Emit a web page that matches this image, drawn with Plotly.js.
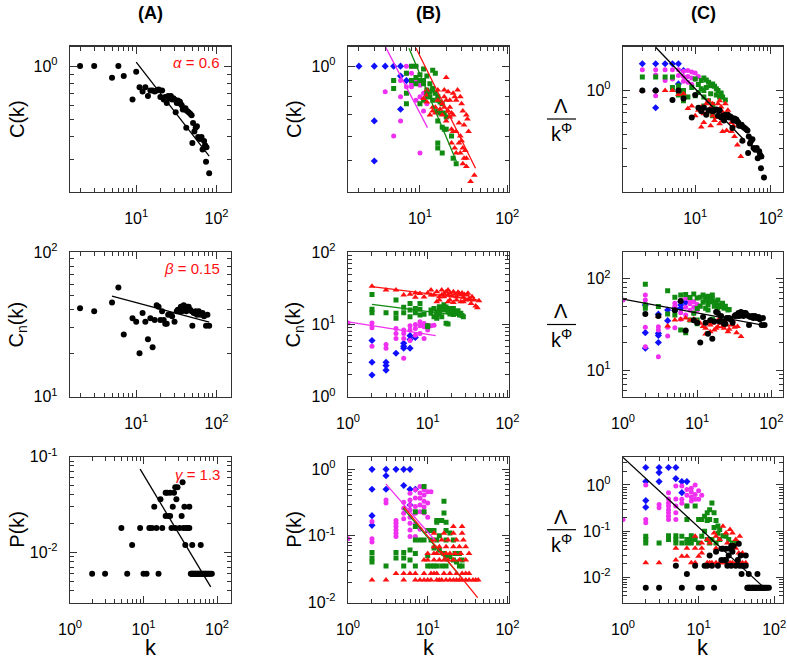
<!DOCTYPE html>
<html>
<head>
<meta charset="utf-8">
<script src="https://cdn.plot.ly/plotly-3.0.1.min.js"></script>
<style>
  html, body { margin: 0; padding: 0; background: #fff; }
  #chart { width: 787px; height: 661px; }
</style>
</head>
<body>
<div id="chart"></div>
<script>
// ── data: [k, value] pairs ───────────────────────────────────────────────────

// (A) aggregated network, black
const ckAll = [[2,1.0],[3,1.0],[5,0.86],[6,1.0],[7,0.88],[9,0.65],[10,0.93],[11,0.76],[12,0.72],[13,0.76],[14,0.68],[15,0.73],[16,0.73],[17,0.72],[18,0.73],[19,0.74],[20,0.67],[21,0.73],[22,0.65],[23,0.67],[24,0.62],[25,0.68],[26,0.66],[27,0.68],[28,0.65],[29,0.66],[30,0.65],[31,0.55],[32,0.62],[33,0.64],[34,0.62],[35,0.63],[36,0.61],[37,0.6],[38,0.57],[40,0.57],[41,0.58],[42,0.45],[43,0.56],[45,0.55],[47,0.54],[49,0.53],[50,0.37],[51,0.48],[53,0.43],[55,0.45],[57,0.46],[59,0.40],[62,0.39],[65,0.40],[67,0.34],[70,0.38],[72,0.36],[75,0.35],[74,0.29],[81,0.25]];
const cnkAll = [[2,41],[3,39],[5,45],[6,57],[7,27],[9,35],[10,33],[11,20],[12,38],[13,33],[14,25],[15,35],[16,22],[17,34],[18,43],[19,42],[20,34],[21,39],[22,34],[23,32],[24,32],[25,37],[27,37],[28,36],[30,33],[32,39],[33,40],[34,39],[36,42],[37,39],[39,43],[40,42],[42,39],[43,42],[45,42],[47,40],[49,39],[50,31],[52,38],[55,39],[57,37],[60,39],[63,37],[67,38],[70,36],[74,31],[77,37],[81,31]];
const pkAll = [[2,0.006],[3,0.006],[5,0.018],[6,0.006],[7,0.012],[9,0.018],[10,0.006],[11,0.006],[12,0.018],[13,0.018],[14,0.030],[15,0.018],[16,0.006],[17,0.036],[18,0.018],[20,0.042],[20,0.024],[21,0.042],[22,0.024],[23,0.042],[23,0.024],[24,0.018],[25,0.030],[26,0.042],[27,0.018],[27,0.048],[28,0.036],[29,0.048],[31,0.018],[33,0.024],[34,0.054],[35,0.018],[36,0.030],[37,0.012],[38,0.018],[40,0.018],[42,0.030],[42,0.018],[46,0.012],[60,0.012],[44,0.006],[45,0.006],[46,0.006],[47,0.006],[48,0.006],[50,0.006],[51,0.006],[52,0.006],[54,0.006],[55,0.006],[57,0.006],[58,0.006],[60,0.006],[62,0.006],[64,0.006],[66,0.006],[68,0.006],[70,0.006],[72,0.006],[75,0.006],[78,0.006],[81,0.006],[85,0.006]];

// (B) individual layers
const ckBlue = [[2,1],[3,1],[4,1],[5,1],[6,1],[7,0.9],[6,0.93],[6,0.73],[3,0.67],[3,0.5]];
const ckMagenta = [[4,0.83],[5,0.9],[5,0.6],[6,0.67],[6,0.9],[6,0.8],[7,0.95],[7,1.0],[8,1.0],[8,0.95],[9,1.0],[9,0.9],[7,0.86],[8,0.86],[10,0.87],[11,0.82],[10,0.8],[9,0.78],[12,0.76],[11,0.72],[10,0.53],[8,0.88]];
const ckGreen = [[5,0.85],[5,0.9],[7,0.82],[7,0.76],[8,1.0],[9,1.0],[7,0.95],[9,0.88],[10,0.9],[11,0.98],[14,0.97],[15,0.95],[12,0.93],[13,0.88],[14,0.85],[14,0.84],[15,0.82],[13,0.8],[12,0.8],[16,0.8],[16,0.78],[17,0.77],[18,0.76],[19,0.71],[19,0.63],[20,0.63],[18,0.64],[16,0.67],[16,0.57],[16,0.55],[18,0.53],[23,0.6],[24,0.51],[26,0.49],[9,0.92],[10,0.94],[11,0.88],[12,0.84],[12,0.82],[13,0.83],[11,0.78],[10,0.76],[14,0.78],[16,0.72],[17,0.71],[20,0.69],[11,0.9],[8,0.9]];
const ckRed = [[12,0.81],[12,0.77],[14,0.74],[14,0.72],[12,0.84],[15,0.71],[16,0.78],[17,0.73],[18,0.70],[19,0.84],[20,0.92],[21,0.83],[22,0.74],[23,0.71],[24,0.70],[25,0.80],[26,0.78],[27,0.84],[29,0.80],[30,0.76],[31,0.72],[34,0.70],[35,0.68],[26,0.62],[29,0.60],[30,0.58],[31,0.55],[33,0.54],[32,0.51],[31,0.49],[34,0.48],[42,0.45],[38,0.43],[23,0.63],[24,0.62],[23,0.57],[25,0.55],[28,0.57],[26,0.53],[20,0.67],[22,0.69],[21,0.72],[19,0.74],[16,0.84],[24,0.82],[22,0.78],[20,0.78],[19,0.80],[15,0.74],[13,0.70],[29,0.53],[34,0.51],[36,0.62],[11,0.79],[28,0.66],[32,0.65],[18,0.76]];

const cnkBlue = [[2,6],[2,3],[2,2],[3,3],[3,2.7],[3,2.33],[4,4],[5,5.5],[5,5.0],[5,4.7],[6,7],[6,6.2],[6,4.7],[7,6.6]];
const cnkMagenta = [[1,10.5],[2,5.0],[2,10.5],[2,9.0],[3,5.3],[3,4.7],[5,3.4],[4,8.8],[4,7.5],[4,6.4],[5,8.4],[5,7.5],[5,6.4],[6,9.6],[6,8.4],[7,10],[7,8.8],[7,7.1],[8,10.9],[8,9.6],[8,7.5],[9,10.3],[9,9.3],[10,9.8],[10,8.4],[11,9.6],[12,9.8],[9,6.4],[6,6.0]];
const cnkGreen = [[2,26],[2,16.2],[2,14.6],[3,14.6],[4,21.9],[4,14.3],[4,12.2],[5,17.3],[5,14.6],[6,19.6],[6,15.9],[6,12.8],[7,16.6],[7,14.6],[8,19.6],[8,16.2],[8,13.5],[9,13.9],[10,9.3],[10,9.6],[11,15.9],[11,14.3],[12,16.6],[12,12.8],[13,15],[13,12.2],[14,17.6],[14,14.3],[15,12.8],[16,18.7],[16,15.9],[17,10.4],[18,10.2],[18,16.6],[18,15],[19,16.6],[20,15.9],[21,16.6],[22,15],[23,14.3],[25,13.5],[26,14.3],[27,13.3],[28,12.8],[14,15.9],[13,13.5],[15,17],[17,17.5],[19,14],[21,13.8],[24,15.5]];
const cnkRed = [[2,34],[3,30],[4,30],[5,25.6],[6,26.3],[7,27.3],[7,23.8],[8,26.9],[10,27.3],[11,25.6],[11,30],[12,25.6],[13,28.4],[14,24.3],[15,30],[15,25.6],[16,26.9],[17,28.4],[18,25.6],[18,30],[19,27.3],[20,24.8],[21,28.4],[22,26.3],[23,24.3],[25,26.9],[26,25.6],[27,27.3],[28,23.8],[30,21.9],[31,25.6],[33,23],[35,19.6],[36,24.3],[38,21.9],[40,18],[44,21.4],[42,17],[19,21.9],[21,20.1],[23,21.9],[26,20.7],[28,20.7],[18,20.7],[16,24.3],[14,21.9],[13,20.7],[24,28],[29,26],[32,27],[34,22],[9,24]];

const pkBlue = [[2,1],[3,1],[4,1],[5,1],[6,1],[3,0.8],[2,0.5],[3,0.5],[5,0.57],[6,0.5],[7,0.5],[6,0.29],[2,0.2],[2,0.143]];
const pkMagenta = [[1,0.09],[2,0.163],[2,0.09],[2,0.08],[3,0.345],[3,0.31],[4,0.17],[4,0.154],[4,0.137],[4,0.122],[4,0.109],[4,0.097],[5,0.32],[5,0.26],[5,0.217],[5,0.18],[6,0.435],[6,0.345],[6,0.29],[6,0.244],[6,0.19],[6,0.154],[6,0.122],[7,0.49],[7,0.37],[7,0.274],[7,0.217],[8,0.55],[8,0.44],[8,0.365],[8,0.29],[8,0.23],[9,0.49],[9,0.41],[9,0.33],[9,0.27],[10,0.46],[10,0.31],[11,0.46],[6,0.097],[7,0.097],[8,0.125],[10,0.19],[9,0.22],[7,0.15]];
const pkGreen = [[2,0.056],[2,0.046],[2,0.040],[3,0.035],[4,0.056],[4,0.046],[5,0.056],[5,0.046],[5,0.035],[6,0.061],[6,0.043],[7,0.23],[7,0.137],[7,0.054],[7,0.035],[9,0.55],[9,0.23],[10,0.12],[10,0.05],[10,0.035],[11,0.12],[12,0.12],[13,0.17],[13,0.16],[14,0.17],[15,0.17],[16,0.33],[16,0.22],[17,0.16],[17,0.12],[17,0.086],[13,0.086],[14,0.061],[16,0.054],[17,0.05],[19,0.048],[21,0.043],[23,0.04],[25,0.035],[27,0.035],[11,0.035],[12,0.035],[13,0.035],[15,0.035],[17,0.035],[19,0.11],[21,0.086],[22,0.054],[23,0.054],[25,0.054],[27,0.043],[7,0.086],[8,0.086],[9,0.086],[11,0.086],[12,0.065],[14,0.1]];
const pkRed = [[2,0.0215],[3,0.0215],[5,0.0215],[7,0.0215],[8,0.0215],[9,0.0215],[10,0.0215],[11,0.0215],[13,0.0215],[14,0.0215],[15,0.0215],[17,0.0215],[19,0.0215],[21,0.0215],[23,0.0215],[25,0.0215],[27,0.0215],[30,0.0215],[33,0.0215],[37,0.0215],[40,0.0215],[43,0.0215],[4,0.027],[5,0.027],[6,0.027],[7,0.027],[9,0.027],[11,0.027],[12,0.027],[13,0.027],[16,0.027],[19,0.027],[23,0.027],[27,0.027],[30,0.027],[33,0.027],[9,0.043],[10,0.043],[12,0.043],[14,0.043],[16,0.043],[18,0.043],[21,0.043],[25,0.043],[30,0.043],[10,0.054],[12,0.054],[13,0.054],[15,0.054],[17,0.054],[19,0.054],[22,0.054],[26,0.054],[33,0.054],[12,0.068],[14,0.068],[17,0.068],[21,0.068],[25,0.068],[30,0.068],[12,0.086],[15,0.086],[18,0.086],[23,0.086],[28,0.086],[12,0.109],[16,0.109],[21,0.109],[27,0.109],[21,0.137],[27,0.137]];

// (C) rescaled, colour layers + aggregated (black reuses ckAll / cnkAll / pkAll)
const lamCBlue = [[2,1.53],[3,1.53],[4,1.53],[5,1.53],[6,1.53],[3,1.0],[3,0.76],[6,1.11],[7,1.375]];
const lamCMagenta = [[2,1.39],[3,1.39],[4,1.39],[5,1.39],[6,1.39],[4,1.17],[5,1.2],[3,0.92],[7,1.36],[8,1.375],[9,1.34],[10,1.32],[7,1.25],[8,1.25],[9,1.22],[10,1.2],[8,1.14],[7,1.16],[9,1.1],[6,1.27],[3,1.28],[11,1.25]];
const lamCGreen = [[2,1.24],[3,1.24],[4,1.24],[5,1.24],[6,1.08],[5,1.05],[6,1.0],[7,1.0],[6,0.93],[7,0.93],[10,1.2],[12,1.17],[13,1.22],[14,1.18],[15,1.14],[16,1.08],[17,1.11],[18,1.07],[19,1.03],[20,1.0],[22,0.96],[23,0.9],[25,0.86],[12,1.03],[13,1.0],[7,0.85],[8,0.9],[10,0.92],[13,0.9],[15,0.85],[17,0.8],[17,0.67],[11,1.1],[14,1.05],[16,0.95],[19,0.93],[21,0.9],[9,1.05],[11,0.97],[13,0.78],[15,0.72]];
const lamCRed = [[2,1.0],[4,1.0],[5,1.0],[6,0.94],[8,0.75],[9,0.78],[10,0.67],[11,0.73],[12,0.77],[13,0.69],[14,0.81],[15,0.85],[16,0.76],[17,0.71],[17,0.67],[18,0.62],[19,0.73],[20,0.81],[21,0.85],[22,0.77],[23,0.71],[25,0.81],[26,0.69],[27,0.73],[29,0.65],[30,0.6],[32,0.57],[26,0.53],[23,0.52],[16,0.57],[13,0.6],[12,0.56],[23,0.62],[42,0.45],[40,0.35],[36,0.42],[33,0.48],[30,0.52],[19,0.65],[21,0.59],[17,0.81],[14,0.69],[3,1.0],[7,0.95]];

const lamNBlue = [[2,51.5],[2,25.6],[2,17.3],[3,40.8],[3,25.2],[3,23.9],[3,20],[4,45.4],[4,34.7],[5,47.3],[5,44.7],[6,56],[6,51.5],[6,47.3],[7,54.8]];
const lamNMagenta = [[1,58.4],[2,66],[2,58.4],[2,29.3],[2,18],[3,29.8],[3,27.4],[3,14],[4,29.3],[4,23.6],[5,53.7],[5,50],[5,29],[6,58],[6,42.4],[7,61],[7,48.5],[8,58],[8,53],[9,48.5],[9,56],[10,45],[8,45],[7,40],[6,36],[10,52],[9,42]];
const lamNGreen = [[2,86.7],[2,51.5],[2,47.3],[3,49.4],[4,73.9],[4,41],[5,62.4],[5,40],[6,66],[6,27.4],[7,67],[7,25.6],[8,62],[9,67.8],[10,61.5],[11,62.6],[13,58],[13,63.5],[15,59.2],[15,56],[16,61],[17,56],[18,53.7],[19,58.4],[20,51.5],[21,49.4],[22,53.7],[23,47.3],[24,50],[26,45.4],[27,46],[11,50],[13,47.3],[14,45.4],[10,47],[9,41.7],[10,35.3],[8,35.3],[10,32],[16,35.9],[12,55],[14,52],[17,50],[19,48],[12,66],[14,64],[16,66]];
const lamNRed = [[3,38.4],[4,30.3],[5,35.3],[6,36],[7,37],[8,35],[9,36],[10,34],[11,32.4],[13,28.6],[14,33.4],[15,31],[17,27.4],[19,29.8],[21,32.4],[23,28.6],[26,26.2],[29,31],[32,29.3],[35,30],[39,23.2],[34,25.6],[30,34.5],[24,35.3],[20,36.9],[18,28.6],[15,26.2],[13,24.8],[16,32.4],[22,30],[25,31],[27,28],[12,30],[18,34]];

const lamPBlue = [[2,2.38],[3,2.38],[3,1.85],[4,2.38],[5,2.38],[2,1.18],[3,1.18],[5,1.37],[6,1.18],[7,1.18],[2,0.46],[2,0.33],[6,0.68]];
const lamPMagenta = [[1,0.18],[2,1.0],[2,0.18],[2,0.152],[3,0.38],[3,0.32],[4,0.68],[4,0.5],[4,0.41],[4,0.35],[4,0.29],[4,0.25],[4,0.21],[4,0.18],[5,0.95],[5,0.5],[5,0.35],[5,0.25],[5,0.18],[6,0.95],[6,0.49],[6,0.4],[7,0.8],[7,0.6],[8,0.85],[8,0.7],[9,1.0],[9,0.49],[10,0.49],[8,0.45],[7,0.35],[9,0.62],[10,0.75],[11,0.6],[8,0.55]];
const lamPGreen = [[2,0.078],[2,0.066],[2,0.056],[3,0.056],[4,0.08],[4,0.066],[5,0.08],[5,0.066],[5,0.056],[6,0.078],[6,0.056],[7,0.35],[7,0.18],[7,0.066],[7,0.056],[8,0.08],[8,0.066],[8,0.056],[9,0.35],[9,0.066],[10,0.18],[11,0.18],[12,0.21],[13,0.25],[13,0.17],[14,0.29],[15,0.41],[16,0.25],[14,0.18],[17,0.17],[18,0.13],[19,0.109],[21,0.08],[23,0.078],[25,0.066],[28,0.056],[32,0.056],[11,0.078],[13,0.066],[14,0.056],[15,0.066],[17,0.056],[19,0.066],[10,0.056],[12,0.1],[16,0.12],[18,0.09]];
const lamPRed = [[2,0.021],[3,0.021],[5,0.024],[6,0.029],[7,0.029],[8,0.021],[9,0.021],[10,0.029],[11,0.034],[13,0.021],[14,0.021],[15,0.021],[17,0.021],[19,0.021],[21,0.021],[23,0.021],[26,0.021],[28,0.021],[31,0.021],[35,0.021],[38,0.021],[42,0.021],[5,0.043],[7,0.043],[9,0.043],[11,0.043],[13,0.066],[14,0.056],[16,0.092],[17,0.078],[19,0.066],[21,0.128],[23,0.092],[26,0.109],[28,0.092],[31,0.066],[35,0.078],[17,0.043],[21,0.043],[26,0.043],[31,0.043],[38,0.034],[34,0.034],[9,0.078],[11,0.056],[24,0.056],[29,0.05]];

// power-law fits: [kmin, kmax, prefactor, exponent]
const fitCkAll = [10, 81, 4.0, 0.58];
const fitCnkAll = [5, 81, 63.4, 0.15];
const fitPkAll = [9, 82, 1.234, 1.28];
const fitCkMagenta = [4, 12.2, 2.42, 0.533];
const fitCkGreen = [7.5, 26.2, 4.33, 0.662];
const fitCkRed = [9, 43.3, 3.91, 0.56];
const fitCnkMagenta = [1, 12.6, 10.9, 0.175];
const fitCnkGreen = [2, 28.5, 20.9, 0.14];
const fitCnkRed = [2, 42, 36.8, 0.139];
const fitPkMagenta = [3, 12.2, 2.72, 1.38];
const fitPkGreen = [4.9, 26.2, 2.53, 1.43];
const fitPkRed = [5, 42.3, 2.97, 1.48];
const fitLamC = [3, 43, 3.63, 0.548];
const fitLamN = [1, 81, 59.8, 0.152];
const fitLamP = [1, 71, 3.93, 1.507];

// ── styling / layout ──────────────────────────────────────────────────────────
const W = 787, H = 661;
const FONT = 'Liberation Sans, Arial, Helvetica, sans-serif';
const COL = { black: '#000000', blue: '#1010ff', magenta: '#f030f0', green: '#108a10', red: '#ff1010' };
const FRAME = '#333333';

const colPx = [[70, 231], [348, 509], [623, 783]];
const rowPx = [[46.5, 191.5], [252.3, 396.7], [456.7, 602.7]];
// log10 ranges per subplot (row-major: A1 B1 C1 A2 B2 C2 A3 B3 C3)
const xRanges = [[0.176,2.18],[0.176,2.02],[0.0455,2.16],[0.176,2.18],[0,2.02],[0,2.157],[0,2.19],[0,2.02],[0,2.116]];
const yRanges = [[-0.704,0.11],[-0.398,0.0625],[-0.698,0.304],[1,2],[0,2],[0.708,2.288],[-2.523,-1],[-2.01,0.19],[-2.543,0.61]];

const px2x = p => p / W;
const px2y = p => 1 - p / H;

function logAxis(range, domain, anchor, isX) {
    const major = [], minor = [];
    for (let d = Math.floor(range[0]) - 1; d <= Math.ceil(range[1]) + 1; d++) {
        if (d >= range[0] - 0.005 && d <= range[1] + 0.005) major.push(Math.pow(10, d));
        for (let m = 2; m <= 9; m++) {
            const l = d + Math.log10(m);
            if (l > range[0] && l < range[1]) minor.push(m * Math.pow(10, d));
        }
    }
    return {
        type: 'log', range, domain, anchor,
        tickmode: 'array', tickvals: major,
        ticktext: major.map(v => '10<sup>' + Math.round(Math.log10(v)) + '</sup>'),
        ticks: 'inside', ticklen: 7, tickwidth: 1, tickcolor: FRAME,
        minor: { tickmode: 'array', tickvals: minor, ticks: 'inside', ticklen: 4, tickwidth: 1, tickcolor: FRAME, showgrid: false },
        showline: true, linecolor: FRAME, linewidth: 1.2, mirror: 'ticks',
        showgrid: false, zeroline: false, fixedrange: true,
        tickfont: { family: FONT, size: 16, color: '#000' },
        ticklabelstandoff: isX ? 12 : 8,
    };
}

const traces = [];
function pts(data, i, color, symbol, size) {
    traces.push({
        type: 'scatter', mode: 'markers', xaxis: 'x' + i, yaxis: 'y' + i,
        x: data.map(p => p[0]), y: data.map(p => p[1]),
        marker: { color, symbol, size, line: { width: 0 } },
        hoverinfo: 'x+y', showlegend: false,
    });
}
function fit(f, i, color) {
    const ks = [f[0], f[1]];
    traces.push({
        type: 'scatter', mode: 'lines', xaxis: 'x' + i, yaxis: 'y' + i,
        x: ks, y: ks.map(k => f[2] * Math.pow(k, -f[3])),
        line: { color, width: 1.3 }, hoverinfo: 'skip', showlegend: false,
    });
}
function layers(i, blue, magenta, green, red) {
    pts(blue, i, COL.blue, 'diamond', 5.5);
    pts(magenta, i, COL.magenta, 'circle', 5);
    pts(green, i, COL.green, 'square', 5);
    pts(red, i, COL.red, 'triangle-up', 6);
}

// column A
pts(ckAll, 1, COL.black, 'circle', 6);  fit(fitCkAll, 1, COL.black);
pts(cnkAll, 4, COL.black, 'circle', 6); fit(fitCnkAll, 4, COL.black);
pts(pkAll, 7, COL.black, 'circle', 6);  fit(fitPkAll, 7, COL.black);
// column B
layers(2, ckBlue, ckMagenta, ckGreen, ckRed);
fit(fitCkMagenta, 2, COL.magenta); fit(fitCkGreen, 2, COL.green); fit(fitCkRed, 2, COL.red);
layers(5, cnkBlue, cnkMagenta, cnkGreen, cnkRed);
fit(fitCnkMagenta, 5, COL.magenta); fit(fitCnkGreen, 5, COL.green); fit(fitCnkRed, 5, COL.red);
layers(8, pkBlue, pkMagenta, pkGreen, pkRed);
fit(fitPkMagenta, 8, COL.magenta); fit(fitPkGreen, 8, COL.green); fit(fitPkRed, 8, COL.red);
// column C
layers(3, lamCBlue, lamCMagenta, lamCGreen, lamCRed);
pts(ckAll, 3, COL.black, 'circle', 6);  fit(fitLamC, 3, COL.black);
layers(6, lamNBlue, lamNMagenta, lamNGreen, lamNRed);
pts(cnkAll, 6, COL.black, 'circle', 6); fit(fitLamN, 6, COL.black);
layers(9, lamPBlue, lamPMagenta, lamPGreen, lamPRed);
pts(pkAll, 9, COL.black, 'circle', 6);  fit(fitLamP, 9, COL.black);

const layout = {
    width: W, height: H,
    margin: { l: 0, r: 0, t: 0, b: 0 },
    paper_bgcolor: '#fff', plot_bgcolor: '#fff',
    showlegend: false,
    font: { family: FONT, color: '#000' },
    annotations: [], shapes: [],
};

for (let r = 0; r < 3; r++) {
    for (let c = 0; c < 3; c++) {
        const i = r * 3 + c + 1;
        const sfx = i === 1 ? '' : String(i);
        layout['xaxis' + sfx] = logAxis(xRanges[i - 1], [px2x(colPx[c][0]), px2x(colPx[c][1])], 'y' + i, true);
        layout['yaxis' + sfx] = logAxis(yRanges[i - 1], [px2y(rowPx[r][1]), px2y(rowPx[r][0])], 'x' + i, false);
    }
}

const ann = (x, y, text, extra) => layout.annotations.push(Object.assign({
    xref: 'paper', yref: 'paper', x: px2x(x), y: px2y(y), text, showarrow: false,
    xanchor: 'center', yanchor: 'middle', font: { family: FONT, size: 20, color: '#000' },
}, extra || {}));

// column headers
['(A)', '(B)', '(C)'].forEach((t, c) =>
    ann((colPx[c][0] + colPx[c][1]) / 2, 13, '<b>' + t + '</b>', { font: { family: FONT, size: 18, color: '#000' } }));

// y titles
const yTitles = ['C(k)', 'C<sub>n</sub>(k)', 'P(k)'];
yTitles.forEach((t, r) => {
    const cy = (rowPx[r][0] + rowPx[r][1]) / 2;
    ann(17, cy, t, { textangle: -90 });
    ann(294, cy, t, { textangle: -90 });
    // fraction Λ / k^Φ for column C
    ann(561, cy - 13, 'Λ');
    ann(561, cy + 14, 'k<sup>Φ</sup>');
    layout.shapes.push({ type: 'line', xref: 'paper', yref: 'paper',
        x0: px2x(547), x1: px2x(576), y0: px2y(cy), y1: px2y(cy), line: { color: '#000', width: 1.2 } });
});

// x titles
colPx.forEach(cp => ann((cp[0] + cp[1]) / 2, 661, 'k',
    { yanchor: 'bottom', borderpad: 0, font: { family: FONT, size: 22, color: '#000' } }));

// exponents
const red = { family: FONT, size: 15, color: '#ff1010' };
ann(222, 62, '<i>α</i> = 0.6', { xanchor: 'right', font: red });
ann(222, 268, '<i>β</i> = 0.15', { xanchor: 'right', font: red });
ann(222, 474, '<i>γ</i> = 1.3', { xanchor: 'right', font: red });

Plotly.newPlot('chart', traces, layout, { staticPlot: true });
</script>
</body>
</html>
